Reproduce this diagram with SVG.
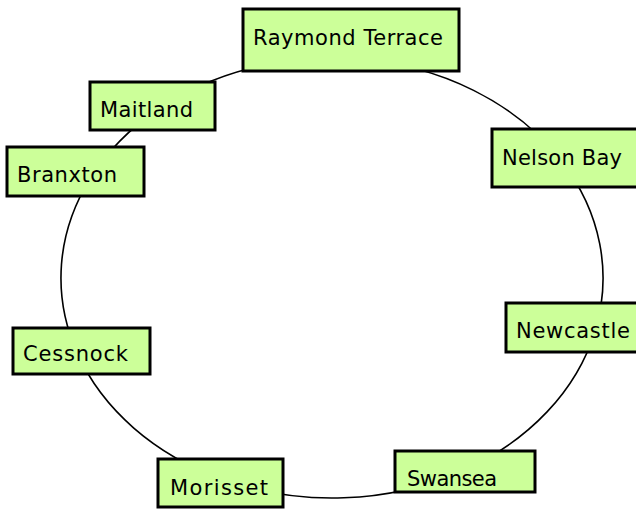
<svg xmlns="http://www.w3.org/2000/svg" width="636" height="509" viewBox="0 0 636 509">
<style>
.box{fill:#ccff99;stroke:#000;stroke-width:3}
.lbl{font-family:"DejaVu Sans","Liberation Sans",sans-serif;font-size:21px;fill:#000}
.conn{fill:none;stroke:#000;stroke-width:1.6}
</style>
<rect width="636" height="509" fill="#fff"/>
<g id="connectors">
<path class="conn" d="M355.6,58.8 A271,220 0 0 1 561.8,161.4"/>
<path class="conn" d="M561.8,161.4 A271,220 0 0 1 595,331.2"/>
<path class="conn" d="M595,331.2 A271,220 0 0 1 463.4,470.4"/>
<path class="conn" d="M463.4,470.4 A271,220 0 0 1 221.8,479"/>
<path class="conn" d="M221.8,479 A271,220 0 0 1 77.3,353.2"/>
<path class="conn" d="M77.3,353.2 A271,220 0 0 1 90.5,178.1"/>
<path class="conn" d="M90.5,178.1 A271,220 0 0 1 157.8,109.5"/>
<path class="conn" d="M157.8,109.5 A271,220 0 0 1 355.6,58.8"/>
</g>
<g id="raymond-terrace"><rect class="box" x="243" y="9" width="216" height="62"/><text class="lbl" x="253" y="45" textLength="190">Raymond Terrace</text></g>
<g id="nelson-bay"><rect class="box" x="492" y="129" width="150" height="58"/><text class="lbl" x="502" y="165" textLength="120">Nelson Bay</text></g>
<g id="newcastle"><rect class="box" x="506" y="303" width="136" height="49"/><text class="lbl" x="516" y="338" textLength="114">Newcastle</text></g>
<g id="swansea"><rect class="box" x="395" y="451" width="140" height="41"/><text class="lbl" x="407" y="486" textLength="90">Swansea</text></g>
<g id="morisset"><rect class="box" x="158" y="459" width="125" height="48"/><text class="lbl" x="170" y="495" textLength="98">Morisset</text></g>
<g id="cessnock"><rect class="box" x="13" y="328" width="137" height="46"/><text class="lbl" x="23" y="361" textLength="105">Cessnock</text></g>
<g id="branxton"><rect class="box" x="7" y="147" width="137" height="49"/><text class="lbl" x="17" y="182" textLength="100">Branxton</text></g>
<g id="maitland"><rect class="box" x="90" y="82" width="125" height="48"/><text class="lbl" x="100" y="117" textLength="93">Maitland</text></g>
</svg>
